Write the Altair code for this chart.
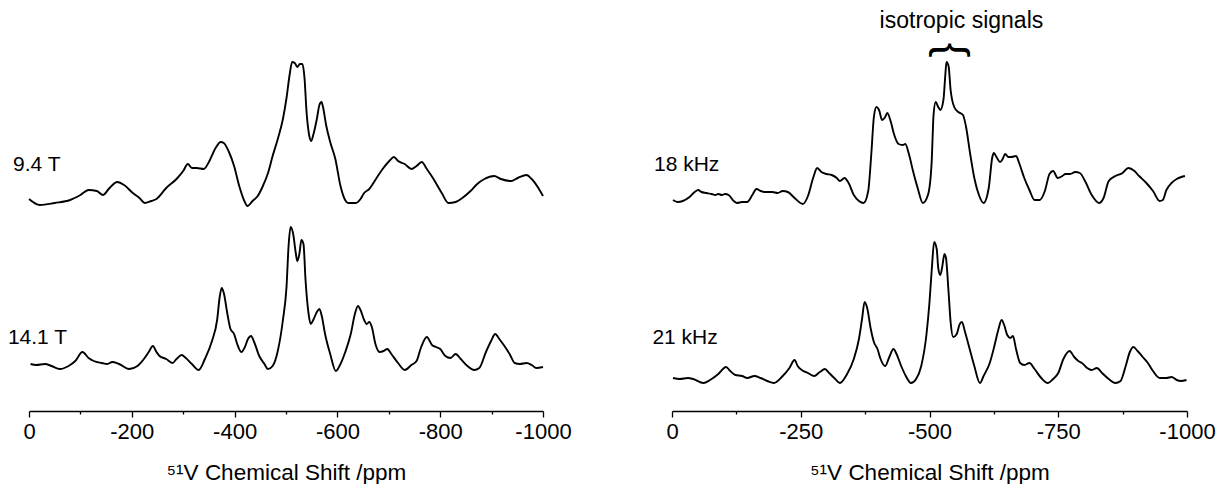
import altair as alt
import pandas as pd

FONT = "Liberation Sans"
TITLE = "⁵¹V Chemical Shift /ppm"

# ---------------- left panel : field strength ----------------
ppm_94 = [0, -21, -50, -80, -100, -116, -132, -144, -155, -172, -185, -202, -215, -225, -238,
          -248, -267, -287, -300, -309, -317, -326, -340, -350, -363, -373, -379, -389, -399, -409,
          -419, -425, -435, -445, -455, -465, -474, -484, -494, -501, -507, -512, -517, -522, -527,
          -532, -536, -540, -545, -549, -553, -560, -565, -569, -572, -578, -586, -596, -606, -615,
          -621, -636, -645, -652, -662, -675, -688, -701, -710, -718, -731, -744, -754, -764, -774,
          -787, -803, -816, -830, -843, -859, -872, -886, -905, -918, -938, -951, -968, -978, -991,
          -1000]
int_94 = [12, 6, 8, 11, 16, 21, 20, 16, 22, 29, 26, 18, 13, 8, 10,
          12, 23, 32, 40, 47, 43, 43, 42, 49, 63, 69, 68, 59, 45, 25,
          10, 5, 10, 15, 25, 38, 55, 72, 92, 113, 136, 149, 148, 144, 147,
          147, 133, 99, 76, 70, 76, 92, 106, 109, 104, 86, 69, 52, 25, 11,
          8, 8, 12, 18, 22, 32, 42, 50, 54, 50, 47, 42, 45, 49, 42,
          32, 18, 8, 9, 13, 20, 27, 32, 35, 32, 30, 33, 36, 32, 23,
          15]

ppm_141 = [-3, -14, -31, -44, -60, -77, -90, -104, -116, -126,
           -142, -152, -162, -175, -195, -211, -225, -233, -241, -248,
           -254, -267, -279, -287, -297, -305, -317, -330, -343, -356,
           -366, -371, -375, -379, -386, -392, -399, -405, -413, -420,
           -426, -432, -438, -448, -458, -465, -474, -484, -494, -501,
           -505, -509, -514, -519, -522, -526, -530, -534, -538, -544,
           -548, -553, -560, -565, -570, -576, -586, -597, -606, -616,
           -626, -634, -640, -645, -652, -657, -662, -667, -674, -682,
           -690, -697, -705, -718, -731, -744, -754, -763, -774, -784,
           -792, -800, -810, -820, -830, -840, -853, -866, -876, -889,
           -899, -907, -915, -925, -935, -945, -955, -968, -978, -987,
           -1000]
int_141 = [25, 24, 25, 23, 20, 23, 28, 37, 31, 28,
           26, 25, 27, 25, 20, 23, 31, 37, 43, 37,
           33, 30, 26, 30, 34, 31, 25, 19, 31, 48,
           69, 92, 101, 96, 75, 60, 55, 45, 37, 42,
           50, 53, 47, 33, 25, 20, 23, 38, 69, 102,
           143, 162, 155, 136, 128, 135, 149, 145, 109, 75,
           65, 69, 77, 80, 72, 55, 35, 18, 25, 38,
           55, 75, 83, 79, 69, 65, 67, 62, 45, 37,
           38, 40, 35, 26, 19, 24, 28, 42, 52, 44,
           42, 40, 33, 31, 35, 30, 23, 19, 21, 37,
           48, 55, 50, 43, 35, 26, 25, 26, 24, 21,
           22]

# ---------------- right panel : spinning speed ----------------
ppm_18 = [-2, -11, -21, -34, -44, -51, -57, -67, -77, -84, -90, -97, -103, -110, -120,
          -126, -136, -146, -156, -164, -172, -182, -195, -205, -215, -225, -238, -254, -264, -274,
          -282, -290, -300, -310, -320, -326, -335, -343, -353, -363, -372, -381, -387, -392, -397,
          -402, -408, -414, -418, -425, -431, -440, -448, -453, -460, -468, -477, -487, -497, -504,
          -508, -512, -517, -521, -527, -531, -533, -537, -541, -548, -556, -565, -571, -579, -587,
          -596, -605, -615, -622, -625, -630, -637, -642, -647, -653, -659, -668, -674, -684, -694,
          -704, -714, -724, -733, -740, -749, -758, -764, -773, -783, -792, -802, -815, -829, -838,
          -848, -861, -875, -886, -898, -907, -921, -934, -947, -953, -960, -970, -980, -989, -996]
int_18 = [11, 9, 10, 14, 19, 21, 19, 18, 17, 16, 17, 16, 17, 16, 10,
          8, 9, 9, 16, 22, 20, 19, 19, 18, 20, 19, 13, 7, 15, 33,
          43, 39, 37, 36, 33, 30, 33, 28, 16, 10, 8, 20, 57, 94, 104,
          101, 91, 94, 98, 89, 77, 67, 66, 67, 57, 40, 23, 8, 16, 47,
          97, 109, 104, 101, 111, 138, 149, 145, 121, 104, 99, 96, 84, 57, 33,
          16, 8, 23, 54, 58, 54, 49, 52, 57, 54, 54, 55, 48, 33, 21,
          11, 11, 20, 37, 40, 33, 35, 37, 37, 39, 38, 30, 16, 8, 13,
          30, 35, 38, 43, 40, 35, 28, 20, 10, 11, 21, 28, 32, 34, 35]

ppm_21 = [-2, -15, -31, -41, -61, -74, -90, -105, -113, -123, -136, -146, -160, -172, -185,
          -198, -215, -228, -238, -244, -252, -264, -276, -287, -297, -305, -317, -326, -340, -353,
          -363, -369, -374, -379, -386, -392, -399, -405, -414, -422, -430, -436, -445, -454, -464,
          -474, -484, -494, -500, -505, -509, -514, -517, -521, -525, -529, -532, -537, -541, -546,
          -553, -558, -563, -569, -578, -587, -598, -605, -617, -626, -634, -640, -645, -651, -657,
          -662, -668, -676, -684, -694, -704, -717, -730, -740, -750, -760, -772, -781, -789, -796,
          -806, -815, -825, -835, -848, -861, -871, -881, -889, -896, -904, -914, -924, -934, -947,
          -960, -970, -980, -988, -999]
int_21 = [11, 10, 11, 10, 6, 9, 15, 22, 18, 14, 13, 11, 13, 11, 8,
          6, 13, 21, 29, 23, 19, 16, 13, 17, 20, 16, 10, 6, 15, 30,
          50, 70, 87, 81, 60, 47, 40, 30, 23, 32, 40, 35, 23, 13, 6,
          10, 23, 54, 87, 124, 147, 140, 121, 114, 123, 135, 131, 97, 67, 52,
          55, 64, 67, 57, 40, 23, 6, 13, 26, 43, 60, 69, 64, 54, 51,
          53, 40, 26, 24, 26, 20, 11, 6, 10, 16, 30, 38, 32, 28, 26,
          21, 19, 21, 16, 10, 6, 8, 23, 37, 42, 38, 32, 26, 18, 11,
          11, 12, 9, 8, 9]

# vertical stacking of the traces (plot units)
OFFSET_TOP = 200
OFFSET_BOTTOM = 22

left_traces = [("9.4 T", ppm_94, int_94, OFFSET_TOP), ("14.1 T", ppm_141, int_141, OFFSET_BOTTOM)]
right_traces = [("18 kHz", ppm_18, int_18, OFFSET_TOP), ("21 kHz", ppm_21, int_21, OFFSET_BOTTOM)]

left_labels = pd.DataFrame({"ppm": [31, 41], "y": [246, 73], "label": ["9.4 T", "14.1 T"]})
right_labels = pd.DataFrame({"ppm": [35, 38], "y": [246, 73], "label": ["18 kHz", "21 kHz"]})
annot = pd.DataFrame({"ppm": [-562], "y": [390], "label": ["isotropic signals"]})
brace = pd.DataFrame({"ppm": [-542], "y": [361], "label": ["{"]})


def frame(traces):
    parts = []
    for name, p, v, off in traces:
        parts.append(pd.DataFrame({"ppm": p, "y": [a + off for a in v], "series": name}))
    return pd.concat(parts, ignore_index=True)


def panel(traces, labels, step, width, extras=()):
    major = 2 * step
    xenc = alt.X(
        "ppm:Q",
        scale=alt.Scale(domain=[0, -1000], nice=False, zero=False),
        axis=alt.Axis(
            values=list(range(0, -1001, -step)),
            title=TITLE,
            labelExpr=f"datum.value % {major} === 0 ? '' + datum.value : ''",
            tickSize={"condition": {"test": f"datum.value % {major} === 0", "value": 6}, "value": 3},
        ),
    )
    yenc = alt.Y("y:Q", scale=alt.Scale(domain=[0, 400]), axis=None)
    lines = alt.Chart(frame(traces)).mark_line(
        color="black", strokeWidth=1.9, interpolate="monotone"
    ).encode(x=xenc, y=yenc, detail="series:N")
    txt = alt.Chart(labels).mark_text(
        align="left", baseline="middle", fontSize=21, font=FONT, color="black"
    ).encode(x=xenc, y=yenc, text="label:N")
    layers = [lines, txt] + [e(xenc, yenc) for e in extras]
    return alt.layer(*layers).properties(width=width, height=400)


def annot_layer(xenc, yenc):
    return alt.Chart(annot).mark_text(
        align="center", baseline="middle", fontSize=23, font=FONT, color="black"
    ).encode(x=xenc, y=yenc, text="label:N")


def brace_layer(xenc, yenc):
    return alt.Chart(brace).mark_text(
        align="center", baseline="middle", fontSize=44, font=FONT, color="black", angle=90
    ).encode(x=xenc, y=yenc, text="label:N")


left = panel(left_traces, left_labels, 100, 514)
right = panel(right_traces, right_labels, 125, 515, extras=(annot_layer, brace_layer))

chart = (
    alt.hconcat(left, right, spacing=129, bounds="flush")
    .properties(padding={"left": 7, "top": 10, "right": 2, "bottom": 0})
    .configure_view(stroke=None)
    .configure_axis(
        grid=False,
        domainColor="black",
        domainWidth=1.3,
        tickColor="black",
        tickWidth=1.3,
        labelFont=FONT,
        labelFontSize=22,
        labelColor="black",
        labelPadding=4,
        labelFlush=False,
        labelOverlap=False,
        titleFont=FONT,
        titleFontSize=22.5,
        titleFontWeight="normal",
        titleColor="black",
        titlePadding=19,
    )
)

chart.save("out.html", embed_options={"renderer": "svg", "actions": False})
